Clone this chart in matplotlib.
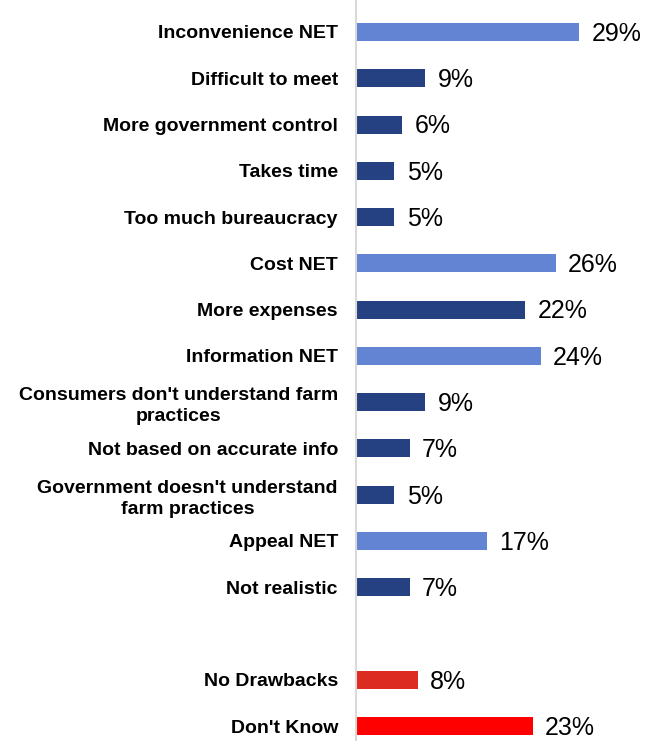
import numpy as np
import matplotlib.pyplot as plt

labels = ['Inconvenience NET', 'Difficult to meet', 'More government control', 'Takes time',
          'Too much bureaucracy', 'Cost NET', 'More expenses', 'Information NET',
          "Consumers don't understand farm\npractices", 'Not based on accurate info',
          "Government doesn't understand\nfarm practices", 'Appeal NET', 'Not realistic',
          '', 'No Drawbacks', "Don't Know"]
values = [29, 9, 6, 5, 5, 26, 22, 24, 9, 7, 5, 17, 7, None, 8, 23]
kinds = ['net', 'sub', 'sub', 'sub', 'sub', 'net', 'sub', 'net', 'sub', 'sub', 'sub', 'net', 'sub',
         None, 'none', 'dk']

colors = {'net': '#6383D3', 'sub': '#264182', 'none': '#DC2B20', 'dk': '#FF0000'}

plt.rcParams['font.family'] = ['Liberation Sans', 'DejaVu Sans']

fig = plt.figure(figsize=(6.59, 7.41), dpi=100)
ax = fig.add_axes([356 / 659, 0, 1 - 356 / 659, 1])

pos = np.arange(len(labels))
for p, v, k in zip(pos, values, kinds):
    if v is None:
        continue
    ax.barh(p, v, height=0.39, color=colors[k])
    ax.text(v + 1.6, p + 0.04, f'{v}%', va='center', ha='left', fontsize=18, color='black')

ax.set_xlim(0, 303 / 7.69)
ax.set_ylim(15 + 15 / 46.27, -32 / 46.27)
ax.set_yticks(pos)
ax.set_yticklabels(labels, fontsize=14, fontweight='bold')
for lbl in ax.get_yticklabels():
    lbl.set_multialignment('center')
    lbl.set_linespacing(1.3)
ax.tick_params(axis='y', length=0, pad=13)
ax.set_xticks([])
for s in ['top', 'right', 'bottom']:
    ax.spines[s].set_visible(False)
ax.spines['left'].set_color('#D9D9D9')
ax.spines['left'].set_linewidth(1.5)

fig.savefig('out.png', dpi=100)
